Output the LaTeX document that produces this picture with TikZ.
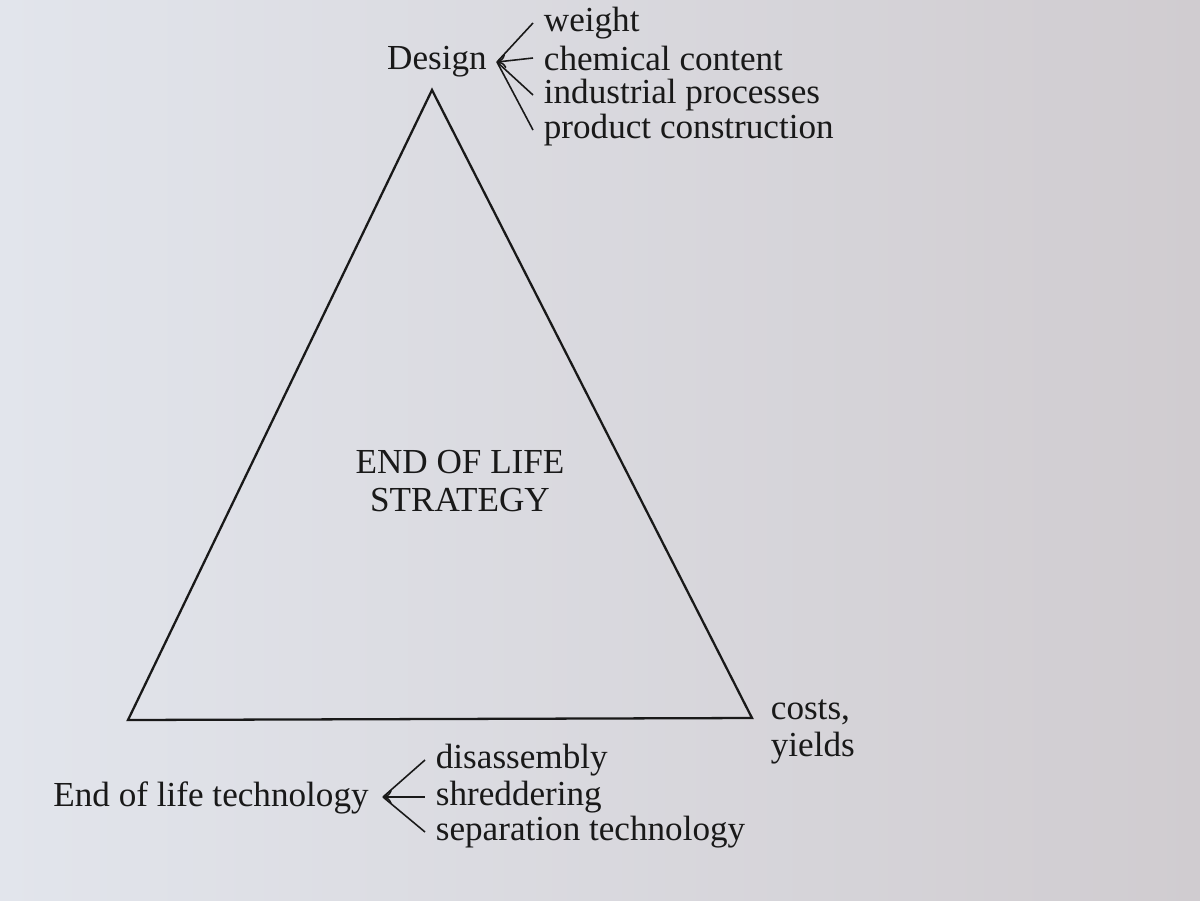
\documentclass[tikz,border=0pt]{standalone}
\usepackage{fontspec}
\setmainfont{Liberation Serif}
\usetikzlibrary{positioning,arrows.meta}
\definecolor{ink}{RGB}{25,25,25}
\definecolor{paperL}{RGB}{226,229,236}
\definecolor{paperM}{RGB}{236,236,238}
\definecolor{paperR}{RGB}{208,204,208}
\begin{document}
\begin{tikzpicture}[x=0.02cm,y=-0.02cm,>={To[length=5pt,width=8pt]},
  lbl/.style = {text=ink, font=\fontsize{20}{22}\selectfont, inner xsep=6pt, inner ysep=1pt},
  item/.style = {lbl, anchor=west},
  fan/.style = {draw=ink, line width=0.9pt},]
\useasboundingbox (0,0) rectangle (1200,900);
\shade[left color=paperL, middle color=paperM, right color=paperR] (0,0) rectangle (1200,900);
% triangle
\coordinate (T) at (432,90);
\coordinate (L) at (128,720);
\coordinate (R) at (752,718);
\draw[ink, line width=1.3pt, line join=miter] (T)--(L)--(R)--cycle;
\node (S1) at (460,462)[lbl] {END OF LIFE};
\node (S2) at (460,500)[lbl] {STRATEGY};
% design
\node (D) at (437,62)[lbl] {Design};
\coordinate (DF) at (497,62);
\node (W) at (533,23)[item] {weight};
\node (C) at (533,58)[item] {chemical content};
\node (I) at (533,95)[item] {industrial processes};
\node (P) at (533,130)[item] {product construction};
\draw[fan] (DF)--(W.west);
\draw[fan,<-] (DF)--(C.west);
\draw[fan] (DF)--(I.west);
\draw[fan] (DF)--(P.west);
% technology
\node (E) at (211,798)[lbl] {End of life technology};
\coordinate (EF) at (383,797);
\node (Da) at (425,760)[item] {disassembly};
\node (Sh) at (425,797)[item] {shreddering};
\node (Se) at (425,832)[item] {separation technology};
\draw[fan] (EF)--(Da.west);
\draw[fan,<-] (EF)--(Sh.west);
\draw[fan] (EF)--(Se.west);
% costs
\node (Co) at (760,712)[item] {costs,};
\node (Y) at (760,748)[item] {yields};
\end{tikzpicture}
\end{document}
